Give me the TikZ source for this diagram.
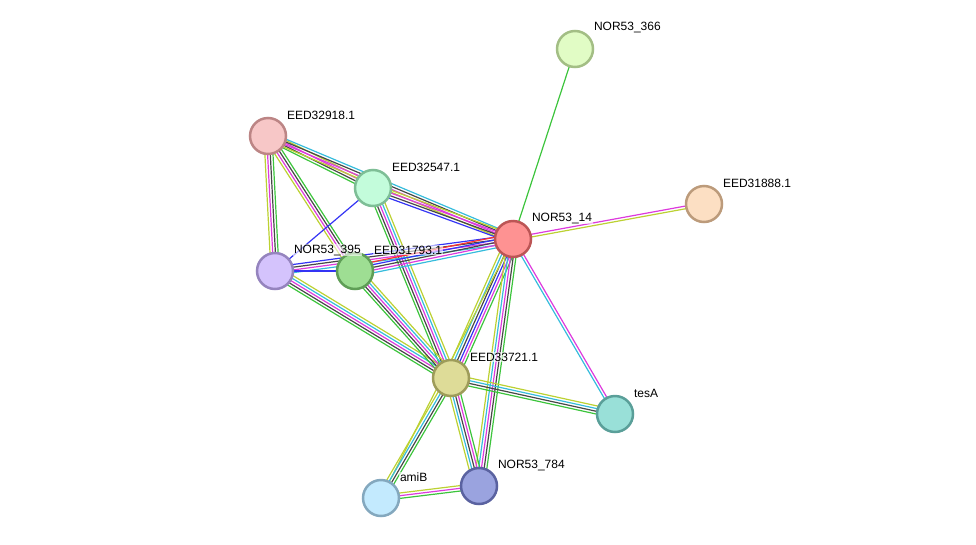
\documentclass[tikz,border=0pt]{standalone}
\usepackage{fontspec}
\setmainfont{Liberation Sans}
\usepackage{tikz}
\usetikzlibrary{calc,backgrounds}
% edge evidence colours
\definecolor{eneigh}{HTML}{3CC43C}
\definecolor{efusion}{HTML}{FF3030}
\definecolor{ecooc}{HTML}{3434F4}
\definecolor{ecoexp}{HTML}{474747}
\definecolor{eexp}{HTML}{DD3ADD}
\definecolor{edb}{HTML}{36BCDC}
\definecolor{etext}{HTML}{BCD132}
% protein colours
\definecolor{f366}{HTML}{E1FCC5}\definecolor{d366}{HTML}{A3BE85}
\definecolor{f32918}{HTML}{F7C7C7}\definecolor{d32918}{HTML}{BC8585}
\definecolor{f31888}{HTML}{FCDFC3}\definecolor{d31888}{HTML}{BC9B7B}
\definecolor{f32547}{HTML}{C3FCDB}\definecolor{d32547}{HTML}{7EBE96}
\definecolor{f14}{HTML}{FE9292}\definecolor{d14}{HTML}{BC5555}
\definecolor{f395}{HTML}{D4C3FC}\definecolor{d395}{HTML}{9584BE}
\definecolor{f31793}{HTML}{9EDE93}\definecolor{d31793}{HTML}{5F9E56}
\definecolor{f33721}{HTML}{DEDC98}\definecolor{d33721}{HTML}{9E9C5A}
\definecolor{ftesA}{HTML}{99E0D8}\definecolor{dtesA}{HTML}{5A9F99}
\definecolor{f784}{HTML}{9AA3DF}\definecolor{d784}{HTML}{5A62A0}
\definecolor{famiB}{HTML}{C3EAFE}\definecolor{damiB}{HTML}{84A8BE}
% one evidence line per colour, side by side
\newcommand{\plink}[3]{%
  \foreach \c [count=\i] in {#3} {\xdef\nlines{\i}}%
  \foreach \c [count=\i] in {#3} {%
    \pgfmathsetmacro\off{(\i-(\nlines+1)/2)*2.7}%
    \draw[edge, \c] ($(#1.center)!\off pt!90:(#2.center)$) -- ($(#2.center)!\off pt!-90:(#1.center)$);
  }%
}

\begin{document}
\begin{tikzpicture}[x=1pt, y=-1pt, font=\fontsize{12}{14}\selectfont,
  prot/.style={circle, minimum size=36pt, inner sep=0pt, line width=2.5pt, fill=f#1, draw=d#1},
  edge/.style={line width=1.2pt},
  lbl/.style={anchor=west, fill=white, fill opacity=0.6, text opacity=1, inner sep=0.8pt}]
  \useasboundingbox (0,0) rectangle (976,544);
  \node[prot=366] (n366) at (575,49) {};
  \node[prot=32918] (n32918) at (268,136) {};
  \node[prot=31888] (n31888) at (704,204) {};
  \node[prot=32547] (n32547) at (373,188) {};
  \node[prot=14] (n14) at (513,239) {};
  \node[prot=395] (n395) at (275,271) {};
  \node[prot=31793] (n31793) at (355,271) {};
  \node[prot=33721] (n33721) at (451,378) {};
  \node[prot=tesA] (tesA) at (615,414) {};
  \node[prot=784] (n784) at (479,486) {};
  \node[prot=amiB] (amiB) at (381,498) {};
  \begin{scope}[on background layer]
    \plink{n14}{n366}{eneigh}
    \plink{n14}{n31888}{etext,eexp}
    \plink{n14}{tesA}{edb,eexp}
    \plink{n32918}{n32547}{eneigh,ecoexp,eexp,etext}
    \plink{n32918}{n14}{etext,eexp,ecoexp,edb}
    \plink{n32547}{n14}{ecooc,ecoexp,eexp,etext}
    \plink{n32918}{n395}{etext,eexp,ecoexp,eneigh}
    \plink{n32918}{n31793}{etext,eexp,ecoexp,eneigh}
    \plink{n32547}{n395}{ecooc}
    \plink{n32547}{n33721}{eneigh,ecoexp,eexp,edb,etext}
    \plink{n395}{n14}{edb,eexp,ecoexp,ecooc}
    \plink{n395}{n31793}{ecooc}
    \plink{n31793}{n14}{edb,eexp,ecoexp,ecooc,efusion}
    \plink{n395}{n33721}{eneigh,ecoexp,eexp,edb,etext}
    \plink{n31793}{n33721}{eneigh,ecoexp,eexp,edb,etext}
    \plink{n14}{n33721}{etext,edb,ecoexp,ecooc,eexp,eneigh}
    \plink{n14}{n784}{etext,edb,eexp,ecoexp,eneigh}
    \plink{n14}{amiB}{etext}
    \plink{n33721}{tesA}{eneigh,ecoexp,edb,etext}
    \plink{n33721}{n784}{etext,edb,ecoexp,eexp,eneigh}
    \plink{n33721}{amiB}{etext,edb,ecoexp,eneigh}
    \plink{amiB}{n784}{eneigh,eexp,etext}
  \end{scope}
  \node[lbl] at ($(n366)+(18,-21)$) {NOR53\_366};
  \node[lbl] at ($(n32918)+(18,-21)$) {EED32918.1};
  \node[lbl] at ($(n31888)+(18,-21)$) {EED31888.1};
  \node[lbl] at ($(n32547)+(18,-21)$) {EED32547.1};
  \node[lbl] at ($(n14)+(18,-21)$) {NOR53\_14};
  \node[lbl] at ($(n395)+(18,-21)$) {NOR53\_395};
  \node[lbl] at ($(n31793)+(18,-21)$) {EED31793.1};
  \node[lbl] at ($(n33721)+(18,-21)$) {EED33721.1};
  \node[lbl] at ($(tesA)+(18,-21)$) {tesA};
  \node[lbl] at ($(n784)+(18,-21)$) {NOR53\_784};
  \node[lbl] at ($(amiB)+(18,-21)$) {amiB};
\end{tikzpicture}
\end{document}
